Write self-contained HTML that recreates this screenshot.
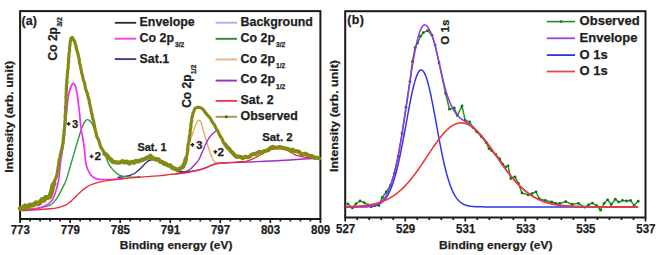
<!DOCTYPE html>
<html><head><meta charset="utf-8"><style>
html,body{margin:0;padding:0;background:#fff;}
svg{display:block;}
</style></head><body>
<svg width="660" height="255" viewBox="0 0 660 255">
<rect width="660" height="255" fill="#fff"/>
<rect x="20.1" y="11.1" width="300.30" height="207.90" fill="none" stroke="#1a1a1a" stroke-width="2.0"/>
<rect x="345.2" y="11.2" width="300.30" height="206.30" fill="none" stroke="#1a1a1a" stroke-width="2.0"/>
<path d="M20.10,219.0 v3.9 M30.11,219.0 v2.5 M40.12,219.0 v2.5 M50.13,219.0 v2.5 M60.14,219.0 v2.5 M70.15,219.0 v3.9 M80.16,219.0 v2.5 M90.17,219.0 v2.5 M100.18,219.0 v2.5 M110.19,219.0 v2.5 M120.20,219.0 v3.9 M130.21,219.0 v2.5 M140.22,219.0 v2.5 M150.23,219.0 v2.5 M160.24,219.0 v2.5 M170.25,219.0 v3.9 M180.26,219.0 v2.5 M190.27,219.0 v2.5 M200.28,219.0 v2.5 M210.29,219.0 v2.5 M220.30,219.0 v3.9 M230.31,219.0 v2.5 M240.32,219.0 v2.5 M250.33,219.0 v2.5 M260.34,219.0 v2.5 M270.35,219.0 v3.9 M280.36,219.0 v2.5 M290.37,219.0 v2.5 M300.38,219.0 v2.5 M310.39,219.0 v2.5 M320.40,219.0 v3.9" stroke="#1a1a1a" stroke-width="1.7" fill="none"/>
<path d="M345.20,217.5 v3.9 M357.21,217.5 v2.5 M369.22,217.5 v2.5 M381.24,217.5 v2.5 M393.25,217.5 v2.5 M405.26,217.5 v3.9 M417.27,217.5 v2.5 M429.28,217.5 v2.5 M441.30,217.5 v2.5 M453.31,217.5 v2.5 M465.32,217.5 v3.9 M477.33,217.5 v2.5 M489.34,217.5 v2.5 M501.36,217.5 v2.5 M513.37,217.5 v2.5 M525.38,217.5 v3.9 M537.39,217.5 v2.5 M549.40,217.5 v2.5 M561.42,217.5 v2.5 M573.43,217.5 v2.5 M585.44,217.5 v3.9 M597.45,217.5 v2.5 M609.46,217.5 v2.5 M621.48,217.5 v2.5 M633.49,217.5 v2.5 M645.50,217.5 v3.9" stroke="#1a1a1a" stroke-width="1.7" fill="none"/>
<text x="20.30" y="233.6" font-size="12.6" text-anchor="middle" font-family="Liberation Sans, sans-serif" font-weight="bold" stroke="#1e1e1e" stroke-width="0.25" fill="#1e1e1e" textLength="19.2" lengthAdjust="spacingAndGlyphs">773</text>
<text x="70.35" y="233.6" font-size="12.6" text-anchor="middle" font-family="Liberation Sans, sans-serif" font-weight="bold" stroke="#1e1e1e" stroke-width="0.25" fill="#1e1e1e" textLength="19.2" lengthAdjust="spacingAndGlyphs">779</text>
<text x="120.40" y="233.6" font-size="12.6" text-anchor="middle" font-family="Liberation Sans, sans-serif" font-weight="bold" stroke="#1e1e1e" stroke-width="0.25" fill="#1e1e1e" textLength="19.2" lengthAdjust="spacingAndGlyphs">785</text>
<text x="170.45" y="233.6" font-size="12.6" text-anchor="middle" font-family="Liberation Sans, sans-serif" font-weight="bold" stroke="#1e1e1e" stroke-width="0.25" fill="#1e1e1e" textLength="19.2" lengthAdjust="spacingAndGlyphs">791</text>
<text x="220.50" y="233.6" font-size="12.6" text-anchor="middle" font-family="Liberation Sans, sans-serif" font-weight="bold" stroke="#1e1e1e" stroke-width="0.25" fill="#1e1e1e" textLength="19.2" lengthAdjust="spacingAndGlyphs">797</text>
<text x="270.55" y="233.6" font-size="12.6" text-anchor="middle" font-family="Liberation Sans, sans-serif" font-weight="bold" stroke="#1e1e1e" stroke-width="0.25" fill="#1e1e1e" textLength="19.2" lengthAdjust="spacingAndGlyphs">803</text>
<text x="320.60" y="233.6" font-size="12.6" text-anchor="middle" font-family="Liberation Sans, sans-serif" font-weight="bold" stroke="#1e1e1e" stroke-width="0.25" fill="#1e1e1e" textLength="19.2" lengthAdjust="spacingAndGlyphs">809</text>
<text x="345.60" y="232.5" font-size="12.6" text-anchor="middle" font-family="Liberation Sans, sans-serif" font-weight="bold" stroke="#1e1e1e" stroke-width="0.25" fill="#1e1e1e" textLength="19.2" lengthAdjust="spacingAndGlyphs">527</text>
<text x="405.66" y="232.5" font-size="12.6" text-anchor="middle" font-family="Liberation Sans, sans-serif" font-weight="bold" stroke="#1e1e1e" stroke-width="0.25" fill="#1e1e1e" textLength="19.2" lengthAdjust="spacingAndGlyphs">529</text>
<text x="465.72" y="232.5" font-size="12.6" text-anchor="middle" font-family="Liberation Sans, sans-serif" font-weight="bold" stroke="#1e1e1e" stroke-width="0.25" fill="#1e1e1e" textLength="19.2" lengthAdjust="spacingAndGlyphs">531</text>
<text x="525.78" y="232.5" font-size="12.6" text-anchor="middle" font-family="Liberation Sans, sans-serif" font-weight="bold" stroke="#1e1e1e" stroke-width="0.25" fill="#1e1e1e" textLength="19.2" lengthAdjust="spacingAndGlyphs">533</text>
<text x="585.84" y="232.5" font-size="12.6" text-anchor="middle" font-family="Liberation Sans, sans-serif" font-weight="bold" stroke="#1e1e1e" stroke-width="0.25" fill="#1e1e1e" textLength="19.2" lengthAdjust="spacingAndGlyphs">535</text>
<text x="645.90" y="232.5" font-size="12.6" text-anchor="middle" font-family="Liberation Sans, sans-serif" font-weight="bold" stroke="#1e1e1e" stroke-width="0.25" fill="#1e1e1e" textLength="19.2" lengthAdjust="spacingAndGlyphs">537</text>
<text x="176.10" y="248.9" font-size="11.8" text-anchor="middle" font-family="Liberation Sans, sans-serif" font-weight="bold" stroke="#1e1e1e" stroke-width="0.25" fill="#1e1e1e" textLength="112.6" lengthAdjust="spacingAndGlyphs">Binding energy (eV)</text>
<text x="495.80" y="248.5" font-size="11.8" text-anchor="middle" font-family="Liberation Sans, sans-serif" font-weight="bold" stroke="#1e1e1e" stroke-width="0.25" fill="#1e1e1e" textLength="113.4" lengthAdjust="spacingAndGlyphs">Binding energy (eV)</text>
<text transform="translate(13.4,116.8) rotate(-90)" font-size="11" text-anchor="middle" font-family="Liberation Sans, sans-serif" font-weight="bold" stroke="#1e1e1e" stroke-width="0.25" fill="#1e1e1e" textLength="112" lengthAdjust="spacingAndGlyphs">Intensity (arb. unit)</text>
<text transform="translate(337.6,116.0) rotate(-90)" font-size="11" text-anchor="middle" font-family="Liberation Sans, sans-serif" font-weight="bold" stroke="#1e1e1e" stroke-width="0.25" fill="#1e1e1e" textLength="112" lengthAdjust="spacingAndGlyphs">Intensity (arb. unit)</text>
<text x="21.4" y="25.0" font-size="12.4" font-family="Liberation Sans, sans-serif" font-weight="bold" stroke="#1e1e1e" stroke-width="0.25" fill="#1e1e1e" textLength="15.4" lengthAdjust="spacing">(a)</text>
<text x="347.3" y="23.9" font-size="12.4" font-family="Liberation Sans, sans-serif" font-weight="bold" stroke="#1e1e1e" stroke-width="0.25" fill="#1e1e1e" textLength="16.6" lengthAdjust="spacing">(b)</text>
<path d="M184.60,172.60 C187.17,172.12 196.10,170.67 200.00,169.70 C203.90,168.73 205.33,167.80 208.00,166.80 C210.67,165.80 212.67,164.37 216.00,163.70 C219.33,163.03 223.88,163.02 228.00,162.80 C232.12,162.58 235.70,162.60 240.70,162.40 C245.70,162.20 252.78,161.83 258.00,161.60 C263.22,161.37 266.67,161.27 272.00,161.00 C277.33,160.73 284.77,160.33 290.00,160.00 C295.23,159.67 298.50,159.30 303.40,159.00 C308.30,158.70 316.73,158.33 319.40,158.20" fill="none" stroke="#9a30c8" stroke-width="1.4" stroke-linejoin="round" stroke-linecap="round" />
<path d="M186.00,150.00 C186.50,148.83 188.00,145.40 189.00,143.00 C190.00,140.60 191.00,138.37 192.00,135.60 C193.00,132.83 193.97,128.95 195.00,126.40 C196.03,123.85 197.20,120.97 198.20,120.30 C199.20,119.63 200.20,120.88 201.00,122.40 C201.80,123.92 202.40,127.30 203.00,129.40 C203.60,131.50 203.93,132.73 204.60,135.00 C205.27,137.27 206.13,140.20 207.00,143.00 C207.87,145.80 208.80,149.03 209.80,151.80 C210.80,154.57 211.97,157.77 213.00,159.60 C214.03,161.43 214.50,162.20 216.00,162.80 C217.50,163.40 221.00,163.13 222.00,163.20" fill="none" stroke="#f2a466" stroke-width="1.4" stroke-linejoin="round" stroke-linecap="round" />
<path d="M176.00,173.60 C177.43,173.33 182.27,172.73 184.60,172.00 C186.93,171.27 188.43,170.30 190.00,169.20 C191.57,168.10 192.55,166.93 194.00,165.40 C195.45,163.87 197.37,162.13 198.70,160.00 C200.03,157.87 200.68,155.57 202.00,152.60 C203.32,149.63 205.27,144.87 206.60,142.20 C207.93,139.53 208.82,138.17 210.00,136.60 C211.18,135.03 212.53,133.80 213.70,132.80 C214.87,131.80 216.45,130.97 217.00,130.60" fill="none" stroke="#9a30c8" stroke-width="1.4" stroke-linejoin="round" stroke-linecap="round" />
<path d="M118.00,177.40 C118.92,177.30 121.67,177.10 123.50,176.80 C125.33,176.50 127.17,176.15 129.00,175.60 C130.83,175.05 132.83,174.47 134.50,173.50 C136.17,172.53 137.43,171.23 139.00,169.80 C140.57,168.37 142.57,166.20 143.90,164.90 C145.23,163.60 145.95,162.82 147.00,162.00 C148.05,161.18 148.87,160.40 150.20,160.00 C151.53,159.60 153.28,159.43 155.00,159.60 C156.72,159.77 158.67,160.33 160.50,161.00 C162.33,161.67 164.17,162.67 166.00,163.60 C167.83,164.53 169.92,165.63 171.50,166.60 C173.08,167.57 174.35,168.67 175.50,169.40 C176.65,170.13 176.88,170.53 178.40,171.00 C179.92,171.47 182.67,172.17 184.60,172.20 C186.53,172.23 189.10,171.37 190.00,171.20" fill="none" stroke="#2e2e8e" stroke-width="1.4" stroke-linejoin="round" stroke-linecap="round" />
<path d="M20.50,209.80 C23.03,209.57 31.35,208.97 35.70,208.40 C40.05,207.83 43.88,207.13 46.60,206.40 C49.32,205.67 50.60,204.93 52.00,204.00 C53.40,203.07 53.92,202.20 55.00,200.80 C56.08,199.40 57.30,197.67 58.50,195.60 C59.70,193.53 60.90,191.00 62.20,188.40 C63.50,185.80 65.13,183.07 66.30,180.00 C67.47,176.93 68.23,173.33 69.20,170.00 C70.17,166.67 71.13,163.33 72.10,160.00 C73.07,156.67 74.02,153.33 75.00,150.00 C75.98,146.67 77.07,143.08 78.00,140.00 C78.93,136.92 79.77,134.00 80.60,131.50 C81.43,129.00 82.23,126.72 83.00,125.00 C83.77,123.28 84.50,122.10 85.20,121.20 C85.90,120.30 86.47,119.70 87.20,119.60 C87.93,119.50 88.80,119.93 89.60,120.60 C90.40,121.27 91.10,122.03 92.00,123.60 C92.90,125.17 94.08,127.67 95.00,130.00 C95.92,132.33 96.50,134.93 97.50,137.60 C98.50,140.27 100.07,143.93 101.00,146.00 C101.93,148.07 102.20,148.00 103.10,150.00 C104.00,152.00 105.50,155.77 106.40,158.00 C107.30,160.23 107.73,161.83 108.50,163.40 C109.27,164.97 110.07,166.13 111.00,167.40 C111.93,168.67 112.85,169.80 114.10,171.00 C115.35,172.20 116.93,173.70 118.50,174.60 C120.07,175.50 121.37,175.97 123.50,176.40 C125.63,176.83 128.55,177.13 131.30,177.20 C134.05,177.27 138.55,176.87 140.00,176.80" fill="none" stroke="#2f9a40" stroke-width="1.4" stroke-linejoin="round" stroke-linecap="round" />
<path d="M20.50,210.20 C22.92,210.03 31.08,209.83 35.00,209.20 C38.92,208.57 41.50,207.50 44.00,206.40 C46.50,205.30 48.50,203.90 50.00,202.60 C51.50,201.30 51.97,200.70 53.00,198.60 C54.03,196.50 55.27,193.10 56.20,190.00 C57.13,186.90 57.90,184.42 58.60,180.00 C59.30,175.58 59.80,168.17 60.40,163.50 C61.00,158.83 61.63,155.92 62.20,152.00 C62.77,148.08 63.35,143.67 63.80,140.00 C64.25,136.33 64.57,133.33 64.90,130.00 C65.23,126.67 65.48,123.33 65.80,120.00 C66.12,116.67 66.37,114.00 66.80,110.00 C67.23,106.00 67.70,99.90 68.40,96.00 C69.10,92.10 70.18,88.70 71.00,86.60 C71.82,84.50 72.53,83.40 73.30,83.40 C74.07,83.40 74.92,84.50 75.60,86.60 C76.28,88.70 76.80,92.10 77.40,96.00 C78.00,99.90 78.60,104.67 79.20,110.00 C79.80,115.33 80.33,123.00 81.00,128.00 C81.67,133.00 82.62,136.33 83.20,140.00 C83.78,143.67 84.05,146.08 84.50,150.00 C84.95,153.92 85.28,160.10 85.90,163.50 C86.52,166.90 87.35,168.45 88.20,170.40 C89.05,172.35 89.95,173.95 91.00,175.20 C92.05,176.45 93.17,177.22 94.50,177.90 C95.83,178.58 97.08,179.03 99.00,179.30 C100.92,179.57 103.35,179.50 106.00,179.50 C108.65,179.50 112.12,179.42 114.90,179.30 C117.68,179.18 121.40,178.88 122.70,178.80" fill="none" stroke="#f030f0" stroke-width="1.7" stroke-linejoin="round" stroke-linecap="round" />
<path d="M20.50,210.60 C23.03,210.48 30.78,210.20 35.70,209.90 C40.62,209.60 46.28,209.18 50.00,208.80 C53.72,208.42 55.42,208.20 58.00,207.60 C60.58,207.00 63.42,206.20 65.50,205.20 C67.58,204.20 68.93,202.90 70.50,201.60 C72.07,200.30 73.52,198.77 74.90,197.40 C76.28,196.03 76.98,195.03 78.80,193.40 C80.62,191.77 83.72,189.07 85.80,187.60 C87.88,186.13 89.20,185.47 91.30,184.60 C93.40,183.73 95.78,183.07 98.40,182.40 C101.02,181.73 104.23,181.07 107.00,180.60 C109.77,180.13 112.25,179.93 115.00,179.60 C117.75,179.27 119.60,179.00 123.50,178.60 C127.40,178.20 134.48,177.53 138.40,177.20 C142.32,176.87 143.40,176.87 147.00,176.60 C150.60,176.33 156.08,175.97 160.00,175.60 C163.92,175.23 166.13,174.88 170.50,174.40 C174.87,173.92 181.28,173.50 186.20,172.70 C191.12,171.90 196.37,170.58 200.00,169.60 C203.63,168.62 205.33,167.80 208.00,166.80 C210.67,165.80 212.67,164.30 216.00,163.60 C219.33,162.90 224.07,162.90 228.00,162.60 C231.93,162.30 236.70,162.00 239.60,161.80 C242.50,161.60 243.58,161.73 245.40,161.40 C247.22,161.07 248.68,160.50 250.50,159.80 C252.32,159.10 254.47,158.13 256.30,157.20 C258.13,156.27 259.67,155.23 261.50,154.20 C263.33,153.17 265.55,151.80 267.30,151.00 C269.05,150.20 270.22,149.80 272.00,149.40 C273.78,149.00 276.17,148.67 278.00,148.60 C279.83,148.53 281.38,148.67 283.00,149.00 C284.62,149.33 286.20,149.93 287.70,150.60 C289.20,151.27 290.62,152.23 292.00,153.00 C293.38,153.77 294.63,154.63 296.00,155.20 C297.37,155.77 298.53,156.03 300.20,156.40 C301.87,156.77 304.03,157.13 306.00,157.40 C307.97,157.67 309.77,157.80 312.00,158.00 C314.23,158.20 318.17,158.50 319.40,158.60" fill="none" stroke="#e8303a" stroke-width="1.4" stroke-linejoin="round" stroke-linecap="round" />
<path d="M20.34,208.53 L22.92,207.91 L25.22,205.78 L27.20,207.50 L29.86,205.00 L32.23,205.19 L34.20,204.53 L36.02,202.72 L38.01,203.92 L39.94,202.58 L42.10,199.49 L44.04,200.15 L45.80,197.39 L47.95,197.38 L49.41,196.94 L50.49,195.09 L50.98,192.88 L51.66,191.22 L52.54,187.62 L52.75,185.71 L53.92,183.84 L54.35,181.82 L54.94,180.02 L55.52,178.57 L56.32,176.88 L56.88,174.76 L57.32,172.86 L57.53,170.10 L57.98,168.35 L58.36,165.76 L58.63,163.30 L59.13,161.45 L59.28,159.01 L60.12,157.59 L60.15,155.37 L60.82,152.82 L61.18,151.20 L61.93,148.67 L62.17,146.62 L62.62,144.77 L63.07,143.21 L63.16,141.28 L63.33,138.65 L63.75,136.68 L63.69,135.12 L64.10,133.06 L63.93,131.45 L64.26,129.47 L64.74,127.23 L64.62,125.38 L64.87,123.40 L64.96,121.32 L65.32,119.14 L65.14,117.19 L65.14,114.86 L65.70,113.01 L65.54,110.66 L65.56,109.06 L65.41,107.08 L65.86,104.69 L65.95,102.98 L66.06,100.90 L66.17,99.17 L65.83,96.69 L66.29,95.32 L66.10,92.97 L66.38,90.87 L66.32,88.87 L66.41,87.07 L66.48,84.91 L66.89,82.68 L66.92,81.20 L66.92,78.88 L67.38,76.92 L67.18,75.07 L67.66,72.82 L67.61,70.93 L68.08,68.95 L68.26,66.65 L68.12,64.79 L68.62,62.42 L68.40,59.98 L68.75,57.90 L69.07,56.36 L68.84,54.16 L69.41,52.13 L69.62,49.46 L69.40,47.43 L69.98,45.68 L69.97,43.69 L70.32,41.62 L70.95,39.76 L70.97,37.93 L72.45,37.55 L73.32,39.40 L74.56,41.21 L75.17,43.44 L75.90,45.61 L76.10,47.21 L76.52,49.04 L77.20,51.32 L77.79,53.18 L78.36,55.76 L78.88,57.98 L79.38,59.91 L79.31,62.11 L79.79,63.75 L80.48,65.94 L80.73,68.28 L81.27,69.89 L81.49,72.24 L82.08,74.15 L82.47,75.73 L83.07,78.19 L83.34,80.15 L84.27,82.11 L84.71,83.54 L85.10,86.13 L85.27,87.68 L85.95,89.86 L86.65,91.84 L87.48,93.51 L87.66,95.62 L88.27,97.70 L89.27,100.25 L89.20,102.06 L89.78,104.04 L90.25,106.42 L90.85,108.40 L91.05,110.43 L91.45,112.71 L92.25,114.73 L92.31,116.72 L92.92,119.08 L93.59,120.99 L94.03,123.27 L94.23,125.15 L94.68,127.37 L95.04,129.24 L95.58,131.06 L96.23,133.70 L96.55,135.64 L97.36,137.87 L98.46,139.66 L99.23,141.75 L99.67,143.50 L100.43,146.32 L101.60,148.45 L102.71,150.06 L103.74,151.74 L104.52,153.63 L105.70,154.42 L107.55,156.01 L108.56,157.72 L110.77,159.21 L112.30,161.55 L114.87,162.16 L117.52,162.59 L120.27,162.37 L122.51,161.30 L124.85,162.39 L127.15,161.62 L129.35,163.56 L131.52,161.98 L134.05,162.74 L135.85,160.90 L137.90,161.51 L140.35,160.57 L142.06,159.92 L143.91,159.22 L146.15,158.31 L148.77,157.07 L150.45,155.85 L152.12,158.14 L154.02,158.60 L155.99,159.56 L158.44,159.33 L160.26,161.75 L162.47,162.21 L163.97,163.68 L165.81,163.73 L167.82,165.39 L170.24,165.55 L172.75,168.12 L174.88,168.65 L177.16,169.84 L179.35,169.09 L181.63,167.55 L183.02,166.88 L183.75,164.80 L184.50,163.55 L185.09,161.58 L185.85,158.84 L186.43,156.85 L187.18,154.58 L187.36,152.62 L187.80,150.29 L187.90,148.53 L187.98,145.81 L188.16,144.14 L188.79,142.24 L189.28,139.66 L189.21,137.63 L189.52,135.70 L190.20,133.64 L190.11,131.39 L190.42,128.91 L190.95,126.52 L190.85,124.88 L191.24,122.52 L191.75,120.51 L191.79,118.01 L192.46,115.99 L192.80,113.79 L193.78,111.51 L194.37,109.29 L195.46,108.12 L197.57,107.07 L200.75,107.72 L202.62,109.03 L204.17,110.83 L205.32,112.58 L206.93,114.37 L208.06,115.91 L209.78,117.52 L210.72,119.01 L211.80,121.08 L213.12,123.15 L214.24,124.58 L215.38,126.82 L216.21,129.07 L217.48,130.45 L218.66,132.45 L219.24,134.64 L220.38,136.37 L221.46,138.18 L222.36,139.46 L223.40,142.53 L225.15,144.29 L226.30,145.67 L227.36,147.57 L229.03,148.49 L230.26,150.54 L231.92,152.22 L233.24,153.65 L234.92,155.54 L236.59,156.84 L238.27,156.54 L240.35,156.80 L242.87,158.25 L245.04,156.73 L247.39,157.24 L249.56,156.68 L251.42,154.77 L253.26,154.10 L255.36,154.07 L257.21,152.78 L259.67,151.81 L261.68,152.98 L264.09,151.10 L266.03,150.57 L268.21,150.34 L270.11,148.00 L272.72,146.77 L274.82,147.48 L276.65,147.75 L279.04,147.12 L281.10,147.29 L283.20,147.96 L285.35,148.45 L287.88,148.89 L290.04,150.52 L292.43,149.49 L294.57,151.11 L296.33,151.27 L298.64,151.44 L301.02,153.86 L303.09,154.39 L305.52,153.54 L307.79,155.15 L309.93,156.09 L312.14,156.09 L314.33,157.88 L316.75,157.55 L318.69,158.19 L319.20,158.40" fill="none" stroke="#848a14" stroke-width="3.2" stroke-linejoin="round" stroke-linecap="round"/>
<path d="M20.34,208.53 L22.92,207.91 L25.22,205.78 L27.20,207.50 L29.86,205.00 L32.23,205.19 L34.20,204.53 L36.02,202.72 L38.01,203.92 L39.94,202.58 L42.10,199.49 L44.04,200.15 L45.80,197.39 L47.95,197.38 L49.41,196.94 L50.49,195.09 L50.98,192.88 L51.66,191.22 L52.54,187.62 L52.75,185.71 L53.92,183.84" fill="none" stroke="#848a14" stroke-width="5.0" stroke-linejoin="round" stroke-linecap="round"/>
<path d="M104.52,153.63 L105.70,154.42 L107.55,156.01 L108.56,157.72 L110.77,159.21 L112.30,161.55 L114.87,162.16 L117.52,162.59 L120.27,162.37 L122.51,161.30 L124.85,162.39 L127.15,161.62 L129.35,163.56 L131.52,161.98 L134.05,162.74 L135.85,160.90 L137.90,161.51 L140.35,160.57 L142.06,159.92 L143.91,159.22 L146.15,158.31 L148.77,157.07 L150.45,155.85 L152.12,158.14 L154.02,158.60 L155.99,159.56 L158.44,159.33 L160.26,161.75 L162.47,162.21 L163.97,163.68 L165.81,163.73 L167.82,165.39 L170.24,165.55 L172.75,168.12 L174.88,168.65 L177.16,169.84 L179.35,169.09 L181.63,167.55 L183.02,166.88 L183.75,164.80 L184.50,163.55 L185.09,161.58 L185.85,158.84" fill="none" stroke="#848a14" stroke-width="4.4" stroke-linejoin="round" stroke-linecap="round"/>
<path d="M225.15,144.29 L226.30,145.67 L227.36,147.57 L229.03,148.49 L230.26,150.54 L231.92,152.22 L233.24,153.65 L234.92,155.54 L236.59,156.84 L238.27,156.54 L240.35,156.80 L242.87,158.25 L245.04,156.73 L247.39,157.24 L249.56,156.68 L251.42,154.77 L253.26,154.10 L255.36,154.07 L257.21,152.78 L259.67,151.81 L261.68,152.98 L264.09,151.10 L266.03,150.57 L268.21,150.34 L270.11,148.00 L272.72,146.77 L274.82,147.48 L276.65,147.75 L279.04,147.12 L281.10,147.29 L283.20,147.96 L285.35,148.45 L287.88,148.89 L290.04,150.52 L292.43,149.49 L294.57,151.11 L296.33,151.27 L298.64,151.44 L301.02,153.86 L303.09,154.39 L305.52,153.54 L307.79,155.15 L309.93,156.09 L312.14,156.09 L314.33,157.88 L316.75,157.55 L318.69,158.19 L319.20,158.40" fill="none" stroke="#848a14" stroke-width="4.0" stroke-linejoin="round" stroke-linecap="round"/>
<path d="M347.70,203.80 L352.40,207.90 L355.90,203.80 L360.10,200.90 L364.20,202.60 L368.00,204.80 L371.20,206.80 L375.00,205.60 L378.90,205.40 L382.30,197.40 L386.20,192.00 L390.40,185.40 L394.30,173.47 L398.20,156.22 L402.10,133.16 L406.00,107.22 L409.90,81.59 L412.40,61.60 L415.20,47.50 L417.50,43.10 L420.50,36.20 L423.30,32.70 L427.50,30.60 L432.00,35.20 L435.10,45.10 L439.00,62.70 L445.60,93.50 L449.50,109.20 L454.20,107.80 L457.30,115.60 L462.00,106.00 L465.20,120.40 L469.60,121.90 L473.00,127.40 L476.50,131.50 L481.30,136.50 L486.10,142.50 L489.00,148.60 L491.60,150.60 L495.70,154.40 L499.80,159.00 L502.70,164.20 L505.30,167.20 L508.00,165.80 L510.80,178.60 L515.00,176.80 L518.40,183.40 L522.00,193.00 L528.20,194.90 L532.00,193.60 L536.00,191.80 L539.20,198.80 L545.50,200.40 L551.70,202.00 L555.60,203.30 L559.60,203.50 L565.80,201.60 L572.10,204.50 L578.40,203.30 L584.60,207.20 L588.50,205.00 L592.40,203.10 L596.50,205.60 L600.60,210.20 L604.10,203.30 L607.60,199.80 L611.20,204.50 L615.30,199.20 L618.80,202.10 L622.40,200.40 L626.50,201.00 L630.60,200.40 L634.10,205.60 L638.20,201.20" fill="none" stroke="#1f9a26" stroke-width="1.5" stroke-linejoin="round"/>
<g fill="#157015"><circle cx="347.7" cy="203.8" r="1.4"/><circle cx="352.4" cy="207.9" r="1.4"/><circle cx="355.9" cy="203.8" r="1.4"/><circle cx="360.1" cy="200.9" r="1.4"/><circle cx="364.2" cy="202.6" r="1.4"/><circle cx="368.0" cy="204.8" r="1.4"/><circle cx="371.2" cy="206.8" r="1.4"/><circle cx="375.0" cy="205.6" r="1.4"/><circle cx="378.9" cy="205.4" r="1.4"/><circle cx="382.3" cy="197.4" r="1.4"/><circle cx="386.2" cy="192.0" r="1.4"/><circle cx="390.4" cy="185.4" r="1.4"/><circle cx="394.3" cy="173.5" r="1.4"/><circle cx="398.2" cy="156.2" r="1.4"/><circle cx="402.1" cy="133.2" r="1.4"/><circle cx="406.0" cy="107.2" r="1.4"/><circle cx="409.9" cy="81.6" r="1.4"/><circle cx="412.4" cy="61.6" r="1.4"/><circle cx="415.2" cy="47.5" r="1.4"/><circle cx="417.5" cy="43.1" r="1.4"/><circle cx="420.5" cy="36.2" r="1.4"/><circle cx="423.3" cy="32.7" r="1.4"/><circle cx="427.5" cy="30.6" r="1.4"/><circle cx="432.0" cy="35.2" r="1.4"/><circle cx="435.1" cy="45.1" r="1.4"/><circle cx="439.0" cy="62.7" r="1.4"/><circle cx="445.6" cy="93.5" r="1.4"/><circle cx="449.5" cy="109.2" r="1.4"/><circle cx="454.2" cy="107.8" r="1.4"/><circle cx="457.3" cy="115.6" r="1.4"/><circle cx="462.0" cy="106.0" r="1.4"/><circle cx="465.2" cy="120.4" r="1.4"/><circle cx="469.6" cy="121.9" r="1.4"/><circle cx="473.0" cy="127.4" r="1.4"/><circle cx="476.5" cy="131.5" r="1.4"/><circle cx="481.3" cy="136.5" r="1.4"/><circle cx="486.1" cy="142.5" r="1.4"/><circle cx="489.0" cy="148.6" r="1.4"/><circle cx="491.6" cy="150.6" r="1.4"/><circle cx="495.7" cy="154.4" r="1.4"/><circle cx="499.8" cy="159.0" r="1.4"/><circle cx="502.7" cy="164.2" r="1.4"/><circle cx="505.3" cy="167.2" r="1.4"/><circle cx="508.0" cy="165.8" r="1.4"/><circle cx="510.8" cy="178.6" r="1.4"/><circle cx="515.0" cy="176.8" r="1.4"/><circle cx="518.4" cy="183.4" r="1.4"/><circle cx="522.0" cy="193.0" r="1.4"/><circle cx="528.2" cy="194.9" r="1.4"/><circle cx="532.0" cy="193.6" r="1.4"/><circle cx="536.0" cy="191.8" r="1.4"/><circle cx="539.2" cy="198.8" r="1.4"/><circle cx="545.5" cy="200.4" r="1.4"/><circle cx="551.7" cy="202.0" r="1.4"/><circle cx="555.6" cy="203.3" r="1.4"/><circle cx="559.6" cy="203.5" r="1.4"/><circle cx="565.8" cy="201.6" r="1.4"/><circle cx="572.1" cy="204.5" r="1.4"/><circle cx="578.4" cy="203.3" r="1.4"/><circle cx="584.6" cy="207.2" r="1.4"/><circle cx="588.5" cy="205.0" r="1.4"/><circle cx="592.4" cy="203.1" r="1.4"/><circle cx="596.5" cy="205.6" r="1.4"/><circle cx="600.6" cy="210.2" r="1.4"/><circle cx="604.1" cy="203.3" r="1.4"/><circle cx="607.6" cy="199.8" r="1.4"/><circle cx="611.2" cy="204.5" r="1.4"/><circle cx="615.3" cy="199.2" r="1.4"/><circle cx="618.8" cy="202.1" r="1.4"/><circle cx="622.4" cy="200.4" r="1.4"/><circle cx="626.5" cy="201.0" r="1.4"/><circle cx="630.6" cy="200.4" r="1.4"/><circle cx="634.1" cy="205.6" r="1.4"/><circle cx="638.2" cy="201.2" r="1.4"/></g>
<path d="M345.60,206.90 L346.10,206.90 L346.60,206.90 L347.10,206.90 L347.60,206.90 L348.10,206.90 L348.60,206.90 L349.10,206.90 L349.60,206.90 L350.10,206.90 L350.60,206.90 L351.10,206.90 L351.60,206.90 L352.10,206.90 L352.60,206.90 L353.10,206.89 L353.60,206.89 L354.10,206.89 L354.60,206.89 L355.10,206.89 L355.60,206.89 L356.10,206.89 L356.60,206.89 L357.10,206.88 L357.60,206.88 L358.10,206.88 L358.60,206.87 L359.10,206.87 L359.60,206.87 L360.10,206.86 L360.60,206.86 L361.10,206.85 L361.60,206.84 L362.10,206.84 L362.60,206.83 L363.10,206.82 L363.60,206.81 L364.10,206.79 L364.60,206.78 L365.10,206.76 L365.60,206.74 L366.10,206.72 L366.60,206.70 L367.10,206.68 L367.60,206.65 L368.10,206.62 L368.60,206.58 L369.10,206.54 L369.60,206.50 L370.10,206.45 L370.60,206.40 L371.10,206.34 L371.60,206.28 L372.10,206.21 L372.60,206.13 L373.10,206.04 L373.60,205.95 L374.10,205.84 L374.60,205.73 L375.10,205.60 L375.60,205.47 L376.10,205.32 L376.60,205.15 L377.10,204.97 L377.60,204.78 L378.10,204.57 L378.60,204.34 L379.10,204.09 L379.60,203.82 L380.10,203.53 L380.60,203.21 L381.10,202.87 L381.60,202.50 L382.10,202.11 L382.60,201.68 L383.10,201.22 L383.60,200.73 L384.10,200.20 L384.60,199.64 L385.10,199.04 L385.60,198.39 L386.10,197.71 L386.60,196.98 L387.10,196.20 L387.60,195.38 L388.10,194.50 L388.60,193.58 L389.10,192.60 L389.60,191.56 L390.10,190.47 L390.60,189.32 L391.10,188.11 L391.60,186.84 L392.10,185.51 L392.60,184.11 L393.10,182.65 L393.60,181.12 L394.10,179.53 L394.60,177.87 L395.10,176.14 L395.60,174.35 L396.10,172.49 L396.60,170.56 L397.10,168.57 L397.60,166.51 L398.10,164.39 L398.60,162.20 L399.10,159.96 L399.60,157.65 L400.10,155.29 L400.60,152.88 L401.10,150.41 L401.60,147.90 L402.10,145.34 L402.60,142.74 L403.10,140.11 L403.60,137.44 L404.10,134.75 L404.60,132.03 L405.10,129.30 L405.60,126.56 L406.10,123.81 L406.60,121.05 L407.10,118.31 L407.60,115.58 L408.10,112.87 L408.60,110.18 L409.10,107.52 L409.60,104.91 L410.10,102.34 L410.60,99.82 L411.10,97.36 L411.60,94.97 L412.10,92.65 L412.60,90.41 L413.10,88.26 L413.60,86.20 L414.10,84.24 L414.60,82.38 L415.10,80.63 L415.60,79.00 L416.10,77.50 L416.60,76.11 L417.10,74.86 L417.60,73.74 L418.10,72.76 L418.60,71.92 L419.10,71.22 L419.60,70.67 L420.10,70.26 L420.60,70.01 L421.10,69.90 L421.60,69.95 L422.10,70.14 L422.60,70.49 L423.10,70.98 L423.60,71.62 L424.10,72.40 L424.60,73.33 L425.10,74.39 L425.60,75.59 L426.10,76.93 L426.60,78.39 L427.10,79.97 L427.60,81.67 L428.10,83.48 L428.60,85.40 L429.10,87.42 L429.60,89.54 L430.10,91.74 L430.60,94.03 L431.10,96.40 L431.60,98.83 L432.10,101.32 L432.60,103.87 L433.10,106.47 L433.60,109.11 L434.10,111.79 L434.60,114.49 L435.10,117.22 L435.60,119.96 L436.10,122.70 L436.60,125.46 L437.10,128.20 L437.60,130.94 L438.10,133.67 L438.60,136.37 L439.10,139.05 L439.60,141.69 L440.10,144.31 L440.60,146.88 L441.10,149.41 L441.60,151.90 L442.10,154.33 L442.60,156.71 L443.10,159.04 L443.60,161.31 L444.10,163.52 L444.60,165.67 L445.10,167.75 L445.60,169.77 L446.10,171.72 L446.60,173.61 L447.10,175.43 L447.60,177.19 L448.10,178.87 L448.60,180.49 L449.10,182.05 L449.60,183.53 L450.10,184.96 L450.60,186.32 L451.10,187.61 L451.60,188.85 L452.10,190.02 L452.60,191.13 L453.10,192.19 L453.60,193.19 L454.10,194.14 L454.60,195.03 L455.10,195.88 L455.60,196.67 L456.10,197.42 L456.60,198.12 L457.10,198.78 L457.60,199.40 L458.10,199.98 L458.60,200.52 L459.10,201.03 L459.60,201.50 L460.10,201.94 L460.60,202.35 L461.10,202.73 L461.60,203.08 L462.10,203.40 L462.60,203.71 L463.10,203.98 L463.60,204.24 L464.10,204.48 L464.60,204.70 L465.10,204.90 L465.60,205.08 L466.10,205.25 L466.60,205.41 L467.10,205.55 L467.60,205.68 L468.10,205.80 L468.60,205.91 L469.10,206.01 L469.60,206.10 L470.10,206.18 L470.60,206.25 L471.10,206.32 L471.60,206.38 L472.10,206.43 L472.60,206.48 L473.10,206.53 L473.60,206.57 L474.10,206.60 L474.60,206.64 L475.10,206.67 L475.60,206.69 L476.10,206.72 L476.60,206.74 L477.10,206.76 L477.60,206.77 L478.10,206.79 L478.60,206.80 L479.10,206.81 L479.60,206.82 L480.10,206.83 L480.60,206.84 L481.10,206.85 L481.60,206.85 L482.10,206.86 L482.60,206.86 L483.10,206.87 L483.60,206.87 L484.10,206.88 L484.60,206.88 L485.10,206.88 L485.60,206.88 L486.10,206.89 L486.60,206.89 L487.10,206.89 L487.60,206.89 L488.10,206.89 L488.60,206.89 L489.10,206.89 L489.60,206.90 L490.10,206.90 L490.60,206.90 L491.10,206.90 L491.60,206.90 L492.10,206.90 L492.60,206.90 L493.10,206.90 L493.60,206.90 L494.10,206.90 L494.60,206.90 L495.10,206.90 L495.60,206.90 L496.10,206.90 L496.60,206.90 L497.10,206.90 L497.60,206.90 L498.10,206.90 L498.60,206.90 L499.10,206.90 L499.60,206.90 L500.10,206.90 L500.60,206.90 L501.10,206.90 L501.60,206.90 L502.10,206.90 L502.60,206.90 L503.10,206.90 L503.60,206.90 L504.10,206.90 L504.60,206.90 L505.10,206.90 L505.60,206.90 L506.10,206.90 L506.60,206.90 L507.10,206.90 L507.60,206.90 L508.10,206.90 L508.60,206.90 L509.10,206.90 L509.60,206.90 L510.10,206.90 L510.60,206.90 L511.10,206.90 L511.60,206.90 L512.10,206.90 L512.60,206.90 L513.10,206.90 L513.60,206.90 L514.10,206.90 L514.60,206.90 L515.10,206.90 L515.60,206.90 L516.10,206.90 L516.60,206.90 L517.10,206.90 L517.60,206.90 L518.10,206.90 L518.60,206.90 L519.10,206.90 L519.60,206.90 L520.10,206.90 L520.60,206.90 L521.10,206.90 L521.60,206.90 L522.10,206.90 L522.60,206.90 L523.10,206.90 L523.60,206.90 L524.10,206.90 L524.60,206.90 L525.10,206.90 L525.60,206.90 L526.10,206.90 L526.60,206.90 L527.10,206.90 L527.60,206.90 L528.10,206.90 L528.60,206.90 L529.10,206.90 L529.60,206.90 L530.10,206.90 L530.60,206.90 L531.10,206.90 L531.60,206.90 L532.10,206.90 L532.60,206.90 L533.10,206.90 L533.60,206.90 L534.10,206.90 L534.60,206.90 L535.10,206.90 L535.60,206.90 L536.10,206.90 L536.60,206.90 L537.10,206.90 L537.60,206.90 L538.10,206.90 L538.60,206.90 L539.10,206.90 L539.60,206.90 L540.10,206.90 L540.60,206.90 L541.10,206.90 L541.60,206.90 L542.10,206.90 L542.60,206.90 L543.10,206.90 L543.60,206.90 L544.10,206.90 L544.60,206.90 L545.10,206.90 L545.60,206.90 L546.10,206.90 L546.60,206.90 L547.10,206.90 L547.60,206.90 L548.10,206.90 L548.60,206.90 L549.10,206.90 L549.60,206.90 L550.10,206.90 L550.60,206.90 L551.10,206.90 L551.60,206.90 L552.10,206.90 L552.60,206.90 L553.10,206.90 L553.60,206.90 L554.10,206.90 L554.60,206.90 L555.10,206.90 L555.60,206.90 L556.10,206.90 L556.60,206.90 L557.10,206.90 L557.60,206.90 L558.10,206.90 L558.60,206.90 L559.10,206.90 L559.60,206.90 L560.10,206.90 L560.60,206.90 L561.10,206.90 L561.60,206.90 L562.10,206.90 L562.60,206.90 L563.10,206.90 L563.60,206.90 L564.10,206.90 L564.60,206.90 L565.10,206.90 L565.60,206.90 L566.10,206.90 L566.60,206.90 L567.10,206.90 L567.60,206.90 L568.10,206.90 L568.60,206.90 L569.10,206.90 L569.60,206.90 L570.10,206.90 L570.60,206.90 L571.10,206.90 L571.60,206.90 L572.10,206.90 L572.60,206.90 L573.10,206.90 L573.60,206.90 L574.10,206.90 L574.60,206.90 L575.10,206.90 L575.60,206.90 L576.10,206.90 L576.60,206.90 L577.10,206.90 L577.60,206.90 L578.10,206.90 L578.60,206.90 L579.10,206.90 L579.60,206.90 L580.10,206.90 L580.60,206.90 L581.10,206.90 L581.60,206.90 L582.10,206.90 L582.60,206.90 L583.10,206.90 L583.60,206.90 L584.10,206.90 L584.60,206.90 L585.10,206.90 L585.60,206.90 L586.10,206.90 L586.60,206.90 L587.10,206.90 L587.60,206.90 L588.10,206.90 L588.60,206.90 L589.10,206.90 L589.60,206.90 L590.10,206.90 L590.60,206.90 L591.10,206.90 L591.60,206.90 L592.10,206.90 L592.60,206.90 L593.10,206.90 L593.60,206.90 L594.10,206.90 L594.60,206.90 L595.10,206.90 L595.60,206.90 L596.10,206.90 L596.60,206.90 L597.10,206.90 L597.60,206.90 L598.10,206.90 L598.60,206.90 L599.10,206.90 L599.60,206.90 L600.10,206.90 L600.60,206.90 L601.10,206.90 L601.60,206.90 L602.10,206.90 L602.60,206.90 L603.10,206.90 L603.60,206.90 L604.10,206.90 L604.60,206.90 L605.10,206.90 L605.60,206.90 L606.10,206.90 L606.60,206.90 L607.10,206.90 L607.60,206.90 L608.10,206.90 L608.60,206.90 L609.10,206.90 L609.60,206.90 L610.10,206.90 L610.60,206.90 L611.10,206.90 L611.60,206.90 L612.10,206.90 L612.60,206.90 L613.10,206.90 L613.60,206.90 L614.10,206.90 L614.60,206.90 L615.10,206.90 L615.60,206.90 L616.10,206.90 L616.60,206.90 L617.10,206.90 L617.60,206.90 L618.10,206.90 L618.60,206.90 L619.10,206.90 L619.60,206.90 L620.10,206.90 L620.60,206.90 L621.10,206.90 L621.60,206.90 L622.10,206.90 L622.60,206.90 L623.10,206.90 L623.60,206.90 L624.10,206.90 L624.60,206.90 L625.10,206.90 L625.60,206.90 L626.10,206.90 L626.60,206.90 L627.10,206.90 L627.60,206.90 L628.10,206.90 L628.60,206.90 L629.10,206.90 L629.60,206.90 L630.10,206.90 L630.60,206.90 L631.10,206.90 L631.60,206.90 L632.10,206.90 L632.60,206.90 L633.10,206.90 L633.60,206.90 L634.10,206.90 L634.60,206.90 L635.10,206.90 L635.60,206.90 L636.10,206.90 L636.60,206.90 L637.10,206.90 L637.60,206.90 L638.10,206.90" fill="none" stroke="#3535e8" stroke-width="1.5"/>
<path d="M345.60,206.90 L346.10,206.90 L346.60,206.90 L347.10,206.90 L347.60,206.90 L348.10,206.90 L348.60,206.90 L349.10,206.90 L349.60,206.90 L350.10,206.89 L350.60,206.89 L351.10,206.89 L351.60,206.89 L352.10,206.89 L352.60,206.89 L353.10,206.89 L353.60,206.89 L354.10,206.88 L354.60,206.88 L355.10,206.88 L355.60,206.88 L356.10,206.87 L356.60,206.87 L357.10,206.87 L357.60,206.86 L358.10,206.86 L358.60,206.85 L359.10,206.85 L359.60,206.84 L360.10,206.83 L360.60,206.82 L361.10,206.81 L361.60,206.80 L362.10,206.79 L362.60,206.78 L363.10,206.76 L363.60,206.74 L364.10,206.73 L364.60,206.70 L365.10,206.68 L365.60,206.66 L366.10,206.63 L366.60,206.59 L367.10,206.56 L367.60,206.52 L368.10,206.48 L368.60,206.43 L369.10,206.38 L369.60,206.32 L370.10,206.25 L370.60,206.18 L371.10,206.11 L371.60,206.02 L372.10,205.93 L372.60,205.82 L373.10,205.71 L373.60,205.59 L374.10,205.46 L374.60,205.31 L375.10,205.15 L375.60,204.97 L376.10,204.78 L376.60,204.58 L377.10,204.35 L377.60,204.11 L378.10,203.85 L378.60,203.56 L379.10,203.25 L379.60,202.92 L380.10,202.56 L380.60,202.17 L381.10,201.76 L381.60,201.31 L382.10,200.83 L382.60,200.31 L383.10,199.75 L383.60,199.16 L384.10,198.53 L384.60,197.85 L385.10,197.12 L385.60,196.35 L386.10,195.53 L386.60,194.66 L387.10,193.74 L387.60,192.76 L388.10,191.72 L388.60,190.62 L389.10,189.46 L389.60,188.23 L390.10,186.94 L390.60,185.58 L391.10,184.15 L391.60,182.65 L392.10,181.07 L392.60,179.42 L393.10,177.70 L393.60,175.90 L394.10,174.02 L394.60,172.06 L395.10,170.03 L395.60,167.91 L396.10,165.71 L396.60,163.44 L397.10,161.08 L397.60,158.65 L398.10,156.14 L398.60,153.55 L399.10,150.89 L399.60,148.15 L400.10,145.35 L400.60,142.47 L401.10,139.53 L401.60,136.53 L402.10,133.47 L402.60,130.35 L403.10,127.18 L403.60,123.96 L404.10,120.70 L404.60,117.40 L405.10,114.07 L405.60,110.72 L406.10,107.34 L406.60,103.95 L407.10,100.54 L407.60,97.14 L408.10,93.74 L408.60,90.35 L409.10,86.97 L409.60,83.63 L410.10,80.31 L410.60,77.03 L411.10,73.80 L411.60,70.62 L412.10,67.50 L412.60,64.45 L413.10,61.47 L413.60,58.58 L414.10,55.77 L414.60,53.05 L415.10,50.44 L415.60,47.92 L416.10,45.53 L416.60,43.24 L417.10,41.08 L417.60,39.04 L418.10,37.14 L418.60,35.36 L419.10,33.73 L419.60,32.23 L420.10,30.87 L420.60,29.65 L421.10,28.58 L421.60,27.64 L422.10,26.85 L422.60,26.20 L423.10,25.69 L423.60,25.32 L424.10,25.08 L424.60,24.97 L425.10,24.98 L425.60,25.11 L426.10,25.36 L426.60,25.73 L427.10,26.19 L427.60,26.76 L428.10,27.43 L428.60,28.18 L429.10,29.03 L429.60,29.96 L430.10,30.98 L430.60,32.08 L431.10,33.25 L431.60,34.51 L432.10,35.86 L432.60,37.28 L433.10,38.78 L433.60,40.37 L434.10,42.04 L434.60,43.79 L435.10,45.63 L435.60,47.54 L436.10,49.52 L436.60,51.57 L437.10,53.68 L437.60,55.85 L438.10,58.06 L438.60,60.31 L439.10,62.58 L439.60,64.86 L440.10,67.14 L440.60,69.42 L441.10,71.67 L441.60,73.90 L442.10,76.09 L442.60,78.23 L443.10,80.33 L443.60,82.36 L444.10,84.33 L444.60,86.24 L445.10,88.08 L445.60,89.85 L446.10,91.56 L446.60,93.20 L447.10,94.77 L447.60,96.27 L448.10,97.72 L448.60,99.10 L449.10,100.42 L449.60,101.68 L450.10,102.88 L450.60,104.04 L451.10,105.14 L451.60,106.19 L452.10,107.19 L452.60,108.15 L453.10,109.06 L453.60,109.93 L454.10,110.75 L454.60,111.54 L455.10,112.29 L455.60,113.00 L456.10,113.68 L456.60,114.32 L457.10,114.93 L457.60,115.50 L458.10,116.05 L458.60,116.56 L459.10,117.05 L459.60,117.51 L460.10,117.94 L460.60,118.35 L461.10,118.73 L461.60,119.09 L462.10,119.44 L462.60,119.79 L463.10,120.13 L463.60,120.47 L464.10,120.80 L464.60,121.13 L465.10,121.46 L465.60,121.79 L466.10,122.12 L466.60,122.46 L467.10,122.80 L467.60,123.14 L468.10,123.48 L468.60,123.83 L469.10,124.19 L469.60,124.55 L470.10,124.92 L470.60,125.30 L471.10,125.69 L471.60,126.08 L472.10,126.48 L472.60,126.90 L473.10,127.32 L473.60,127.75 L474.10,128.19 L474.60,128.64 L475.10,129.11 L475.60,129.58 L476.10,130.06 L476.60,130.55 L477.10,131.05 L477.60,131.56 L478.10,132.09 L478.60,132.62 L479.10,133.16 L479.60,133.71 L480.10,134.27 L480.60,134.84 L481.10,135.42 L481.60,136.01 L482.10,136.60 L482.60,137.21 L483.10,137.82 L483.60,138.44 L484.10,139.07 L484.60,139.70 L485.10,140.34 L485.60,140.99 L486.10,141.65 L486.60,142.31 L487.10,142.98 L487.60,143.65 L488.10,144.33 L488.60,145.02 L489.10,145.70 L489.60,146.40 L490.10,147.09 L490.60,147.80 L491.10,148.50 L491.60,149.21 L492.10,149.92 L492.60,150.63 L493.10,151.34 L493.60,152.06 L494.10,152.78 L494.60,153.50 L495.10,154.22 L495.60,154.94 L496.10,155.66 L496.60,156.38 L497.10,157.11 L497.60,157.83 L498.10,158.55 L498.60,159.27 L499.10,159.98 L499.60,160.70 L500.10,161.42 L500.60,162.13 L501.10,162.84 L501.60,163.55 L502.10,164.25 L502.60,164.95 L503.10,165.65 L503.60,166.35 L504.10,167.04 L504.60,167.72 L505.10,168.41 L505.60,169.09 L506.10,169.76 L506.60,170.43 L507.10,171.10 L507.60,171.76 L508.10,172.41 L508.60,173.06 L509.10,173.70 L509.60,174.34 L510.10,174.97 L510.60,175.60 L511.10,176.22 L511.60,176.83 L512.10,177.44 L512.60,178.04 L513.10,178.63 L513.60,179.22 L514.10,179.80 L514.60,180.38 L515.10,180.94 L515.60,181.50 L516.10,182.06 L516.60,182.60 L517.10,183.14 L517.60,183.67 L518.10,184.20 L518.60,184.71 L519.10,185.22 L519.60,185.72 L520.10,186.22 L520.60,186.70 L521.10,187.18 L521.60,187.65 L522.10,188.12 L522.60,188.58 L523.10,189.02 L523.60,189.47 L524.10,189.90 L524.60,190.33 L525.10,190.75 L525.60,191.16 L526.10,191.56 L526.60,191.96 L527.10,192.35 L527.60,192.73 L528.10,193.11 L528.60,193.47 L529.10,193.83 L529.60,194.19 L530.10,194.53 L530.60,194.87 L531.10,195.21 L531.60,195.53 L532.10,195.85 L532.60,196.16 L533.10,196.47 L533.60,196.77 L534.10,197.06 L534.60,197.34 L535.10,197.62 L535.60,197.90 L536.10,198.16 L536.60,198.42 L537.10,198.68 L537.60,198.92 L538.10,199.17 L538.60,199.40 L539.10,199.63 L539.60,199.86 L540.10,200.08 L540.60,200.29 L541.10,200.50 L541.60,200.70 L542.10,200.90 L542.60,201.09 L543.10,201.28 L543.60,201.46 L544.10,201.64 L544.60,201.81 L545.10,201.98 L545.60,202.15 L546.10,202.31 L546.60,202.46 L547.10,202.61 L547.60,202.76 L548.10,202.90 L548.60,203.04 L549.10,203.17 L549.60,203.30 L550.10,203.43 L550.60,203.55 L551.10,203.67 L551.60,203.78 L552.10,203.89 L552.60,204.00 L553.10,204.11 L553.60,204.21 L554.10,204.31 L554.60,204.40 L555.10,204.49 L555.60,204.58 L556.10,204.67 L556.60,204.75 L557.10,204.83 L557.60,204.91 L558.10,204.99 L558.60,205.06 L559.10,205.13 L559.60,205.20 L560.10,205.27 L560.60,205.33 L561.10,205.39 L561.60,205.45 L562.10,205.51 L562.60,205.57 L563.10,205.62 L563.60,205.67 L564.10,205.72 L564.60,205.77 L565.10,205.81 L565.60,205.86 L566.10,205.90 L566.60,205.94 L567.10,205.98 L567.60,206.02 L568.10,206.06 L568.60,206.09 L569.10,206.13 L569.60,206.16 L570.10,206.19 L570.60,206.22 L571.10,206.25 L571.60,206.28 L572.10,206.31 L572.60,206.33 L573.10,206.36 L573.60,206.38 L574.10,206.40 L574.60,206.43 L575.10,206.45 L575.60,206.47 L576.10,206.49 L576.60,206.51 L577.10,206.52 L577.60,206.54 L578.10,206.56 L578.60,206.57 L579.10,206.59 L579.60,206.60 L580.10,206.62 L580.60,206.63 L581.10,206.64 L581.60,206.65 L582.10,206.67 L582.60,206.68 L583.10,206.69 L583.60,206.70 L584.10,206.71 L584.60,206.72 L585.10,206.73 L585.60,206.73 L586.10,206.74 L586.60,206.75 L587.10,206.76 L587.60,206.76 L588.10,206.77 L588.60,206.78 L589.10,206.78 L589.60,206.79 L590.10,206.80 L590.60,206.80 L591.10,206.81 L591.60,206.81 L592.10,206.82 L592.60,206.82 L593.10,206.82 L593.60,206.83 L594.10,206.83 L594.60,206.83 L595.10,206.84 L595.60,206.84 L596.10,206.84 L596.60,206.85 L597.10,206.85 L597.60,206.85 L598.10,206.86 L598.60,206.86 L599.10,206.86 L599.60,206.86 L600.10,206.86 L600.60,206.87 L601.10,206.87 L601.60,206.87 L602.10,206.87 L602.60,206.87 L603.10,206.87 L603.60,206.88 L604.10,206.88 L604.60,206.88 L605.10,206.88 L605.60,206.88 L606.10,206.88 L606.60,206.88 L607.10,206.88 L607.60,206.88 L608.10,206.89 L608.60,206.89 L609.10,206.89 L609.60,206.89 L610.10,206.89 L610.60,206.89 L611.10,206.89 L611.60,206.89 L612.10,206.89 L612.60,206.89 L613.10,206.89 L613.60,206.89 L614.10,206.89 L614.60,206.89 L615.10,206.89 L615.60,206.89 L616.10,206.89 L616.60,206.89 L617.10,206.90 L617.60,206.90 L618.10,206.90 L618.60,206.90 L619.10,206.90 L619.60,206.90 L620.10,206.90 L620.60,206.90 L621.10,206.90 L621.60,206.90 L622.10,206.90 L622.60,206.90 L623.10,206.90 L623.60,206.90 L624.10,206.90 L624.60,206.90 L625.10,206.90 L625.60,206.90 L626.10,206.90 L626.60,206.90 L627.10,206.90 L627.60,206.90 L628.10,206.90 L628.60,206.90 L629.10,206.90 L629.60,206.90 L630.10,206.90 L630.60,206.90 L631.10,206.90 L631.60,206.90 L632.10,206.90 L632.60,206.90 L633.10,206.90 L633.60,206.90 L634.10,206.90 L634.60,206.90 L635.10,206.90 L635.60,206.90 L636.10,206.90 L636.60,206.90 L637.10,206.90 L637.60,206.90 L638.10,206.90" fill="none" stroke="#9a30f0" stroke-width="1.5"/>
<path d="M345.60,206.67 L346.10,206.66 L346.60,206.64 L347.10,206.63 L347.60,206.62 L348.10,206.60 L348.60,206.59 L349.10,206.57 L349.60,206.56 L350.10,206.54 L350.60,206.52 L351.10,206.50 L351.60,206.48 L352.10,206.46 L352.60,206.44 L353.10,206.42 L353.60,206.39 L354.10,206.37 L354.60,206.34 L355.10,206.31 L355.60,206.29 L356.10,206.26 L356.60,206.23 L357.10,206.20 L357.60,206.16 L358.10,206.13 L358.60,206.09 L359.10,206.05 L359.60,206.02 L360.10,205.98 L360.60,205.93 L361.10,205.89 L361.60,205.84 L362.10,205.80 L362.60,205.75 L363.10,205.70 L363.60,205.64 L364.10,205.59 L364.60,205.53 L365.10,205.47 L365.60,205.41 L366.10,205.34 L366.60,205.28 L367.10,205.21 L367.60,205.14 L368.10,205.06 L368.60,204.99 L369.10,204.91 L369.60,204.82 L370.10,204.74 L370.60,204.65 L371.10,204.56 L371.60,204.46 L372.10,204.36 L372.60,204.26 L373.10,204.16 L373.60,204.05 L374.10,203.94 L374.60,203.82 L375.10,203.70 L375.60,203.58 L376.10,203.45 L376.60,203.32 L377.10,203.18 L377.60,203.04 L378.10,202.90 L378.60,202.75 L379.10,202.59 L379.60,202.43 L380.10,202.27 L380.60,202.10 L381.10,201.93 L381.60,201.75 L382.10,201.57 L382.60,201.38 L383.10,201.18 L383.60,200.98 L384.10,200.78 L384.60,200.57 L385.10,200.35 L385.60,200.13 L386.10,199.90 L386.60,199.66 L387.10,199.42 L387.60,199.17 L388.10,198.92 L388.60,198.66 L389.10,198.39 L389.60,198.12 L390.10,197.83 L390.60,197.55 L391.10,197.25 L391.60,196.95 L392.10,196.64 L392.60,196.32 L393.10,196.00 L393.60,195.67 L394.10,195.33 L394.60,194.98 L395.10,194.63 L395.60,194.26 L396.10,193.89 L396.60,193.52 L397.10,193.13 L397.60,192.74 L398.10,192.34 L398.60,191.93 L399.10,191.51 L399.60,191.08 L400.10,190.65 L400.60,190.21 L401.10,189.75 L401.60,189.30 L402.10,188.83 L402.60,188.35 L403.10,187.87 L403.60,187.38 L404.10,186.88 L404.60,186.37 L405.10,185.85 L405.60,185.33 L406.10,184.79 L406.60,184.25 L407.10,183.70 L407.60,183.14 L408.10,182.58 L408.60,182.00 L409.10,181.42 L409.60,180.83 L410.10,180.23 L410.60,179.63 L411.10,179.02 L411.60,178.40 L412.10,177.77 L412.60,177.14 L413.10,176.49 L413.60,175.85 L414.10,175.19 L414.60,174.53 L415.10,173.86 L415.60,173.18 L416.10,172.50 L416.60,171.82 L417.10,171.12 L417.60,170.43 L418.10,169.72 L418.60,169.01 L419.10,168.30 L419.60,167.58 L420.10,166.86 L420.60,166.13 L421.10,165.40 L421.60,164.66 L422.10,163.92 L422.60,163.18 L423.10,162.44 L423.60,161.69 L424.10,160.94 L424.60,160.19 L425.10,159.43 L425.60,158.68 L426.10,157.92 L426.60,157.16 L427.10,156.41 L427.60,155.65 L428.10,154.89 L428.60,154.13 L429.10,153.38 L429.60,152.62 L430.10,151.87 L430.60,151.11 L431.10,150.36 L431.60,149.62 L432.10,148.87 L432.60,148.13 L433.10,147.39 L433.60,146.66 L434.10,145.93 L434.60,145.21 L435.10,144.49 L435.60,143.78 L436.10,143.07 L436.60,142.37 L437.10,141.68 L437.60,140.99 L438.10,140.31 L438.60,139.64 L439.10,138.97 L439.60,138.32 L440.10,137.68 L440.60,137.04 L441.10,136.41 L441.60,135.80 L442.10,135.19 L442.60,134.60 L443.10,134.01 L443.60,133.44 L444.10,132.88 L444.60,132.33 L445.10,131.80 L445.60,131.28 L446.10,130.77 L446.60,130.27 L447.10,129.79 L447.60,129.32 L448.10,128.87 L448.60,128.43 L449.10,128.01 L449.60,127.60 L450.10,127.21 L450.60,126.83 L451.10,126.47 L451.60,126.12 L452.10,125.80 L452.60,125.48 L453.10,125.19 L453.60,124.91 L454.10,124.65 L454.60,124.41 L455.10,124.19 L455.60,123.98 L456.10,123.79 L456.60,123.62 L457.10,123.46 L457.60,123.33 L458.10,123.21 L458.60,123.11 L459.10,123.03 L459.60,122.97 L460.10,122.93 L460.60,122.91 L461.10,122.90 L461.60,122.91 L462.10,122.94 L462.60,122.99 L463.10,123.05 L463.60,123.13 L464.10,123.22 L464.60,123.34 L465.10,123.46 L465.60,123.61 L466.10,123.77 L466.60,123.95 L467.10,124.14 L467.60,124.36 L468.10,124.58 L468.60,124.82 L469.10,125.08 L469.60,125.36 L470.10,125.65 L470.60,125.95 L471.10,126.27 L471.60,126.60 L472.10,126.95 L472.60,127.32 L473.10,127.69 L473.60,128.08 L474.10,128.49 L474.60,128.91 L475.10,129.34 L475.60,129.79 L476.10,130.24 L476.60,130.71 L477.10,131.20 L477.60,131.69 L478.10,132.20 L478.60,132.72 L479.10,133.25 L479.60,133.79 L480.10,134.34 L480.60,134.90 L481.10,135.47 L481.60,136.05 L482.10,136.64 L482.60,137.24 L483.10,137.85 L483.60,138.47 L484.10,139.09 L484.60,139.72 L485.10,140.36 L485.60,141.01 L486.10,141.66 L486.60,142.32 L487.10,142.99 L487.60,143.66 L488.10,144.34 L488.60,145.02 L489.10,145.71 L489.60,146.40 L490.10,147.10 L490.60,147.80 L491.10,148.50 L491.60,149.21 L492.10,149.92 L492.60,150.63 L493.10,151.35 L493.60,152.06 L494.10,152.78 L494.60,153.50 L495.10,154.22 L495.60,154.94 L496.10,155.66 L496.60,156.38 L497.10,157.11 L497.60,157.83 L498.10,158.55 L498.60,159.27 L499.10,159.98 L499.60,160.70 L500.10,161.42 L500.60,162.13 L501.10,162.84 L501.60,163.55 L502.10,164.25 L502.60,164.95 L503.10,165.65 L503.60,166.35 L504.10,167.04 L504.60,167.72 L505.10,168.41 L505.60,169.09 L506.10,169.76 L506.60,170.43 L507.10,171.10 L507.60,171.76 L508.10,172.41 L508.60,173.06 L509.10,173.70 L509.60,174.34 L510.10,174.97 L510.60,175.60 L511.10,176.22 L511.60,176.83 L512.10,177.44 L512.60,178.04 L513.10,178.63 L513.60,179.22 L514.10,179.80 L514.60,180.38 L515.10,180.94 L515.60,181.50 L516.10,182.06 L516.60,182.60 L517.10,183.14 L517.60,183.67 L518.10,184.20 L518.60,184.71 L519.10,185.22 L519.60,185.72 L520.10,186.22 L520.60,186.70 L521.10,187.18 L521.60,187.65 L522.10,188.12 L522.60,188.58 L523.10,189.02 L523.60,189.47 L524.10,189.90 L524.60,190.33 L525.10,190.75 L525.60,191.16 L526.10,191.56 L526.60,191.96 L527.10,192.35 L527.60,192.73 L528.10,193.11 L528.60,193.47 L529.10,193.83 L529.60,194.19 L530.10,194.53 L530.60,194.87 L531.10,195.21 L531.60,195.53 L532.10,195.85 L532.60,196.16 L533.10,196.47 L533.60,196.77 L534.10,197.06 L534.60,197.34 L535.10,197.62 L535.60,197.90 L536.10,198.16 L536.60,198.42 L537.10,198.68 L537.60,198.92 L538.10,199.17 L538.60,199.40 L539.10,199.63 L539.60,199.86 L540.10,200.08 L540.60,200.29 L541.10,200.50 L541.60,200.70 L542.10,200.90 L542.60,201.09 L543.10,201.28 L543.60,201.46 L544.10,201.64 L544.60,201.81 L545.10,201.98 L545.60,202.15 L546.10,202.31 L546.60,202.46 L547.10,202.61 L547.60,202.76 L548.10,202.90 L548.60,203.04 L549.10,203.17 L549.60,203.30 L550.10,203.43 L550.60,203.55 L551.10,203.67 L551.60,203.78 L552.10,203.89 L552.60,204.00 L553.10,204.11 L553.60,204.21 L554.10,204.31 L554.60,204.40 L555.10,204.49 L555.60,204.58 L556.10,204.67 L556.60,204.75 L557.10,204.83 L557.60,204.91 L558.10,204.99 L558.60,205.06 L559.10,205.13 L559.60,205.20 L560.10,205.27 L560.60,205.33 L561.10,205.39 L561.60,205.45 L562.10,205.51 L562.60,205.57 L563.10,205.62 L563.60,205.67 L564.10,205.72 L564.60,205.77 L565.10,205.81 L565.60,205.86 L566.10,205.90 L566.60,205.94 L567.10,205.98 L567.60,206.02 L568.10,206.06 L568.60,206.09 L569.10,206.13 L569.60,206.16 L570.10,206.19 L570.60,206.22 L571.10,206.25 L571.60,206.28 L572.10,206.31 L572.60,206.33 L573.10,206.36 L573.60,206.38 L574.10,206.40 L574.60,206.43 L575.10,206.45 L575.60,206.47 L576.10,206.49 L576.60,206.51 L577.10,206.52 L577.60,206.54 L578.10,206.56 L578.60,206.57 L579.10,206.59 L579.60,206.60 L580.10,206.62 L580.60,206.63 L581.10,206.64 L581.60,206.65 L582.10,206.67 L582.60,206.68 L583.10,206.69 L583.60,206.70 L584.10,206.71 L584.60,206.72 L585.10,206.73 L585.60,206.73 L586.10,206.74 L586.60,206.75 L587.10,206.76 L587.60,206.76 L588.10,206.77 L588.60,206.78 L589.10,206.78 L589.60,206.79 L590.10,206.80 L590.60,206.80 L591.10,206.81 L591.60,206.81 L592.10,206.82 L592.60,206.82 L593.10,206.82 L593.60,206.83 L594.10,206.83 L594.60,206.83 L595.10,206.84 L595.60,206.84 L596.10,206.84 L596.60,206.85 L597.10,206.85 L597.60,206.85 L598.10,206.86 L598.60,206.86 L599.10,206.86 L599.60,206.86 L600.10,206.86 L600.60,206.87 L601.10,206.87 L601.60,206.87 L602.10,206.87 L602.60,206.87 L603.10,206.87 L603.60,206.88 L604.10,206.88 L604.60,206.88 L605.10,206.88 L605.60,206.88 L606.10,206.88 L606.60,206.88 L607.10,206.88 L607.60,206.88 L608.10,206.89 L608.60,206.89 L609.10,206.89 L609.60,206.89 L610.10,206.89 L610.60,206.89 L611.10,206.89 L611.60,206.89 L612.10,206.89 L612.60,206.89 L613.10,206.89 L613.60,206.89 L614.10,206.89 L614.60,206.89 L615.10,206.89 L615.60,206.89 L616.10,206.89 L616.60,206.89 L617.10,206.90 L617.60,206.90 L618.10,206.90 L618.60,206.90 L619.10,206.90 L619.60,206.90 L620.10,206.90 L620.60,206.90 L621.10,206.90 L621.60,206.90 L622.10,206.90 L622.60,206.90 L623.10,206.90 L623.60,206.90 L624.10,206.90 L624.60,206.90 L625.10,206.90 L625.60,206.90 L626.10,206.90 L626.60,206.90 L627.10,206.90 L627.60,206.90 L628.10,206.90 L628.60,206.90 L629.10,206.90 L629.60,206.90 L630.10,206.90 L630.60,206.90 L631.10,206.90 L631.60,206.90 L632.10,206.90 L632.60,206.90 L633.10,206.90 L633.60,206.90 L634.10,206.90 L634.60,206.90 L635.10,206.90 L635.60,206.90 L636.10,206.90 L636.60,206.90 L637.10,206.90 L637.60,206.90 L638.10,206.90" fill="none" stroke="#ee3a2e" stroke-width="1.6"/>
<line x1="114.8" y1="22.8" x2="136.2" y2="22.8" stroke="#333333" stroke-width="1.9"/>
<text x="139.6" y="25.6" font-size="12.4" font-family="Liberation Sans, sans-serif" font-weight="bold" stroke="#1e1e1e" stroke-width="0.25" fill="#1e1e1e">Envelope</text>
<line x1="114.8" y1="38.7" x2="136.2" y2="38.7" stroke="#ee40ee" stroke-width="1.9"/>
<text x="139.6" y="41.9" font-size="12.4" font-family="Liberation Sans, sans-serif" font-weight="bold" stroke="#1e1e1e" stroke-width="0.25" fill="#1e1e1e">Co 2p<tspan font-size="6.6" dx="1.0" dy="5.4">3/2</tspan></text>
<line x1="114.8" y1="59.1" x2="136.2" y2="59.1" stroke="#3c3c88" stroke-width="1.9"/>
<text x="139.6" y="63.2" font-size="12.4" font-family="Liberation Sans, sans-serif" font-weight="bold" stroke="#1e1e1e" stroke-width="0.25" fill="#1e1e1e">Sat.1</text>
<line x1="215.6" y1="22.7" x2="237" y2="22.7" stroke="#a8b0f0" stroke-width="1.9"/>
<text x="240.6" y="25.5" font-size="12.4" font-family="Liberation Sans, sans-serif" font-weight="bold" stroke="#1e1e1e" stroke-width="0.25" fill="#1e1e1e">Background</text>
<line x1="215.6" y1="38.8" x2="237" y2="38.8" stroke="#2e8a3a" stroke-width="1.9"/>
<text x="240.6" y="42.0" font-size="12.4" font-family="Liberation Sans, sans-serif" font-weight="bold" stroke="#1e1e1e" stroke-width="0.25" fill="#1e1e1e">Co 2p<tspan font-size="6.6" dx="1.0" dy="5.4">3/2</tspan></text>
<line x1="215.6" y1="59.5" x2="237" y2="59.5" stroke="#e8b284" stroke-width="1.9"/>
<text x="240.6" y="63.0" font-size="12.4" font-family="Liberation Sans, sans-serif" font-weight="bold" stroke="#1e1e1e" stroke-width="0.25" fill="#1e1e1e">Co 2p<tspan font-size="6.6" dx="1.0" dy="5.4">1/2</tspan></text>
<line x1="215.6" y1="80.6" x2="237" y2="80.6" stroke="#9a30c0" stroke-width="1.9"/>
<text x="240.6" y="83.3" font-size="12.4" font-family="Liberation Sans, sans-serif" font-weight="bold" stroke="#1e1e1e" stroke-width="0.25" fill="#1e1e1e">Co 2p<tspan font-size="6.6" dx="1.0" dy="5.4">1/2</tspan></text>
<line x1="215.6" y1="100.9" x2="237" y2="100.9" stroke="#f0384a" stroke-width="1.9"/>
<text x="240.6" y="104.2" font-size="12.4" font-family="Liberation Sans, sans-serif" font-weight="bold" stroke="#1e1e1e" stroke-width="0.25" fill="#1e1e1e">Sat. 2</text>
<line x1="215.6" y1="116.8" x2="237" y2="116.8" stroke="#9a9a50" stroke-width="1.9"/>
<circle cx="226.3" cy="116.8" r="1.5" fill="#5a5a10"/>
<text x="240.6" y="119.8" font-size="12.4" font-family="Liberation Sans, sans-serif" font-weight="bold" stroke="#1e1e1e" stroke-width="0.25" fill="#1e1e1e">Observed</text>
<line x1="546.8" y1="21.6" x2="575" y2="21.6" stroke="#2a8a2a" stroke-width="1.6"/>
<circle cx="560.9" cy="21.6" r="1.3" fill="#1a6a1a"/>
<text x="579.6" y="25.2" font-size="13" font-family="Liberation Sans, sans-serif" font-weight="bold" stroke="#1e1e1e" stroke-width="0.25" fill="#1e1e1e">Observed</text>
<line x1="546.8" y1="38.3" x2="575" y2="38.3" stroke="#a040f4" stroke-width="1.8"/>
<text x="579.6" y="42.0" font-size="13" font-family="Liberation Sans, sans-serif" font-weight="bold" stroke="#1e1e1e" stroke-width="0.25" fill="#1e1e1e">Envelope</text>
<line x1="546.8" y1="55.1" x2="575" y2="55.1" stroke="#3535d8" stroke-width="1.8"/>
<text x="579.6" y="59.3" font-size="13" font-family="Liberation Sans, sans-serif" font-weight="bold" stroke="#1e1e1e" stroke-width="0.25" fill="#1e1e1e">O 1s</text>
<line x1="546.8" y1="71.5" x2="575" y2="71.5" stroke="#e04848" stroke-width="1.8"/>
<text x="579.6" y="75.3" font-size="13" font-family="Liberation Sans, sans-serif" font-weight="bold" stroke="#1e1e1e" stroke-width="0.25" fill="#1e1e1e">O 1s</text>
<text transform="translate(57.0,60.4) rotate(-90)" font-size="12" font-family="Liberation Sans, sans-serif" font-weight="bold" stroke="#1e1e1e" stroke-width="0.25" fill="#1e1e1e">Co 2p<tspan font-size="7.0" dx="0.2" dy="5.0">3/2</tspan></text>
<text transform="translate(190.6,107.8) rotate(-90)" font-size="12" font-family="Liberation Sans, sans-serif" font-weight="bold" stroke="#1e1e1e" stroke-width="0.25" fill="#1e1e1e">Co 2p<tspan font-size="7.0" dx="0.2" dy="5.0">1/2</tspan></text>
<text transform="translate(449.0,44.8) rotate(-90)" font-size="11.6" font-family="Liberation Sans, sans-serif" font-weight="bold" stroke="#1e1e1e" stroke-width="0.25" fill="#1e1e1e">O 1s</text>
<path d="M66.70,123.8 h3.8 M68.6,121.90 v3.8" stroke="#1e1e1e" stroke-width="1.5"/>
<text x="71.9" y="127.6" font-size="11.2" font-family="Liberation Sans, sans-serif" font-weight="bold" stroke="#1e1e1e" stroke-width="0.25" fill="#1e1e1e">3</text>
<path d="M89.70,156.4 h3.8 M91.6,154.50 v3.8" stroke="#1e1e1e" stroke-width="1.5"/>
<text x="94.6" y="160.2" font-size="11.8" font-family="Liberation Sans, sans-serif" font-weight="bold" stroke="#1e1e1e" stroke-width="0.25" fill="#1e1e1e">2</text>
<path d="M190.50,144.8 h3.8 M192.4,142.90 v3.8" stroke="#1e1e1e" stroke-width="1.5"/>
<text x="196.3" y="148.7" font-size="11.2" font-family="Liberation Sans, sans-serif" font-weight="bold" stroke="#1e1e1e" stroke-width="0.25" fill="#1e1e1e">3</text>
<path d="M213.50,151.8 h3.8 M215.4,149.90 v3.8" stroke="#1e1e1e" stroke-width="1.5"/>
<text x="217.5" y="155.6" font-size="11.6" font-family="Liberation Sans, sans-serif" font-weight="bold" stroke="#1e1e1e" stroke-width="0.25" fill="#1e1e1e">2</text>
<text x="137.5" y="150.8" font-size="11.4" font-family="Liberation Sans, sans-serif" font-weight="bold" stroke="#1e1e1e" stroke-width="0.25" fill="#1e1e1e" textLength="29.0" lengthAdjust="spacingAndGlyphs">Sat. 1</text>
<text x="262.2" y="141.4" font-size="11.4" font-family="Liberation Sans, sans-serif" font-weight="bold" stroke="#1e1e1e" stroke-width="0.25" fill="#1e1e1e" textLength="30.4" lengthAdjust="spacingAndGlyphs">Sat. 2</text>
</svg>
</body></html>
